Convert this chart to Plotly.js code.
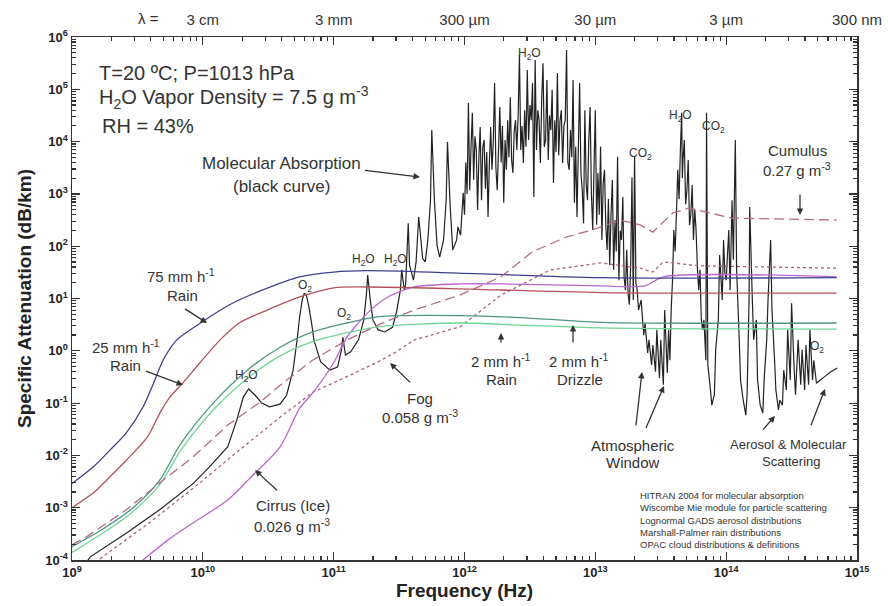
<!DOCTYPE html>
<html><head><meta charset="utf-8">
<script src="https://cdn.plot.ly/plotly-3.0.1.min.js"></script>
<style>html,body{margin:0;padding:0;background:#fff}#chart{width:888px;height:606px}</style>
</head><body><div id="chart"></div>
<script>
// ---- tick labels ----
const freqTicks = [1e9, 1e10, 1e11, 1e12, 1e13, 1e14, 1e15];
const freqTickText = ['10<sup>9</sup>','10<sup>10</sup>','10<sup>11</sup>','10<sup>12</sup>','10<sup>13</sup>','10<sup>14</sup>','10<sup>15</sup>'];
const attTicks = [1e-4, 1e-3, 1e-2, 1e-1, 1e0, 1e1, 1e2, 1e3, 1e4, 1e5, 1e6];
const attTickText = ['10<sup>-4</sup>','10<sup>-3</sup>','10<sup>-2</sup>','10<sup>-1</sup>','10<sup>0</sup>','10<sup>1</sup>','10<sup>2</sup>','10<sup>3</sup>','10<sup>4</sup>','10<sup>5</sup>','10<sup>6</sup>'];
const waveTicks = [1e10, 1e11, 1e12, 1e13, 1e14, 1e15];
const waveTickText = ['3 cm', '3 mm', '300 \u00b5m', '30 \u00b5m', '3 \u00b5m', '300 nm'];

// ---- series (Hz, dB/km) ----
const rain75F = [1e9, 1.45e9, 1.95e9, 2.6e9, 3.5e9, 4.2e9, 5e9, 6.3e9, 9.6e9, 1.6e10, 2.75e10, 5.5e10, 1e11, 1.8e11, 7.8e11, 1.1e13, 7e14];
const rain75A = [2.9e-3, 6e-3, 0.0126, 0.027, 0.085, 0.24, 0.68, 1.6, 3.4, 7.6, 14, 26, 32, 34, 31, 25, 25];

const rain25F = [1e9, 1.45e9, 1.95e9, 2.6e9, 3.75e9, 4.7e9, 5.6e9, 7e9, 9.5e9, 1.35e10, 1.9e10, 3.1e10, 5.5e10, 1e11, 1.8e11, 7.8e11, 1.1e13, 7e14];
const rain25A = [1.0e-3, 1.9e-3, 3.9e-3, 8.1e-3, 0.022, 0.065, 0.13, 0.24, 0.59, 1.6, 3.4, 6, 10.7, 16, 16.6, 15.5, 13, 12.7];

const rain2F = [1e9, 1.6e9, 2.9e9, 4.7e9, 6.7e9, 1.2e10, 2.2e10, 3.9e10, 6.9e10, 1.26e11, 2.24e11, 9.3e11, 2.7e12, 1.1e13, 7e14];
const rain2A = [1.8e-4, 3.5e-4, 9.8e-4, 3.4e-3, 0.016, 0.1, 0.43, 1.17, 2.3, 3.4, 4.5, 4.7, 4.3, 3.5, 3.4];

const drizzleF = [1e9, 1.6e9, 2.9e9, 4.7e9, 6.7e9, 1.2e10, 2.2e10, 3.9e10, 6.9e10, 1.26e11, 2.24e11, 9.3e11, 2.7e12, 1.1e13, 7e14];
const drizzleA = [1.4e-4, 2.9e-4, 8.3e-4, 2.8e-3, 0.012, 0.074, 0.3, 0.8, 1.5, 2.2, 2.9, 3.4, 3.1, 2.75, 2.6];

const fogF = [1.5e9, 4e9, 9.5e9, 1.9e10, 3.9e10, 6.9e10, 1.26e11, 2.2e11, 3e11, 4.1e11, 9.3e11, 1.9e12, 4.5e12, 1.1e13, 2.2e13, 2.75e13, 3.3e13, 6.3e13, 7e14];
const fogA = [0.9e-4, 5.4e-4, 3e-3, 0.0126, 0.054, 0.16, 0.32, 0.62, 0.95, 1.6, 2.9, 11.6, 35, 48, 38, 32, 50, 42, 38];

const cirrusF = [3.4e9, 5.4e9, 8.4e9, 1.55e10, 2.3e10, 3.9e10, 5.5e10, 6.9e10, 1e11, 1.26e11, 1.8e11, 2.6e11, 4.1e11, 9.3e11, 1.9e12, 1.1e13, 2.4e13, 3.3e13, 7e14];
const cirrusA = [0.95e-4, 2.4e-4, 5.1e-4, 1.4e-3, 3.7e-3, 0.0145, 0.08, 0.155, 0.59, 1.8, 5.2, 10.7, 16.6, 19, 19, 17.4, 17.4, 26, 26];

const cumulusF = [1e9, 1.3e9, 2.6e9, 4.7e9, 8.4e9, 1.55e10, 2.75e10, 3.9e10, 6.9e10, 1.26e11, 2.24e11, 4.1e11, 9.3e11, 1.9e12, 3.3e12, 6e12, 9.5e12, 1.55e13, 2.2e13, 2.75e13, 3.9e13, 5.2e13, 1.1e14, 7e14];
const cumulusA = [1.95e-4, 2.8e-4, 9.1e-4, 3e-3, 9.3e-3, 0.038, 0.105, 0.22, 0.66, 1.6, 3.2, 6, 11.7, 26, 78, 150, 205, 316, 255, 186, 430, 540, 345, 316];

// molecular absorption: base-10 exponents of frequency (Hz) and of attenuation (dB/km)
const molLogHz = [
9.10,9.14,9.42,9.67,9.93,10.05,10.19,10.26,10.31,10.35,
10.40,10.45,10.51,10.59,10.64,10.69,10.72,10.74,10.76,10.775,
10.79,10.81,10.83,10.85,10.90,10.97,11.03,11.06,11.07,11.09,
11.13,11.19,11.23,11.25,11.26,11.28,11.30,11.34,11.39,11.45,
11.48,11.51,11.52,11.54,11.55,11.57,11.58,11.61,11.63,11.65,
11.68,11.70,11.72,11.74,11.75,11.77,11.79,11.81,11.84,11.86,
11.87,11.89,11.91,11.94,11.95,11.97,11.99,12.00,12.01,12.02,
12.03,12.04,12.05,12.06,12.07,12.08,12.09,12.10,12.11,12.12,
12.13,12.14,12.15,12.16,12.17,12.18,12.19,12.20,12.21,12.22,
12.23,12.24,12.25,12.26,12.27,12.28,12.29,12.30,12.31,12.32,
12.33,12.34,12.35,12.36,12.37,12.38,12.39,12.40,12.41,12.42,
12.43,12.44,12.45,12.46,12.47,12.48,12.49,12.50,12.51,12.52,
12.53,12.54,12.55,12.56,12.57,12.58,12.59,12.60,12.61,12.62,
12.63,12.64,12.65,12.66,12.67,12.68,12.69,12.70,12.71,12.72,
12.73,12.74,12.75,12.76,12.77,12.78,12.79,12.80,12.81,12.82,
12.83,12.84,12.85,12.86,12.87,12.88,12.89,12.90,12.91,12.92,
12.93,12.94,12.95,12.96,12.97,12.98,12.99,13.00,13.01,13.02,
13.03,13.04,13.05,13.06,13.07,13.08,13.09,13.10,13.11,13.12,
13.13,13.14,13.15,13.16,13.17,13.18,13.19,13.20,13.21,13.22,
13.23,13.24,13.25,13.26,13.27,13.28,13.29,13.30,13.31,13.32,
13.33,13.35,13.37,13.38,13.40,13.41,13.43,13.44,13.46,13.47,
13.49,13.50,13.52,13.53,13.55,13.56,13.57,13.58,13.59,13.60,
13.61,13.62,13.63,13.64,13.65,13.66,13.665,13.67,13.68,13.69,
13.70,13.71,13.72,13.73,13.74,13.75,13.76,13.77,13.78,13.79,
13.80,13.81,13.82,13.83,13.845,13.85,13.86,13.88,13.89,13.91,
13.92,13.94,13.95,13.97,13.98,13.99,14.00,14.02,14.03,14.045,
14.055,14.07,14.08,14.10,14.11,14.13,14.15,14.16,14.175,14.18,
14.20,14.21,14.23,14.24,14.26,14.28,14.29,14.31,14.32,14.34,
14.35,14.37,14.38,14.40,14.41,14.43,14.44,14.46,14.47,14.49,
14.50,14.52,14.53,14.55,14.57,14.58,14.60,14.61,14.63,14.64,
14.66,14.67,14.69,14.72,14.76,14.80,14.85];
const molLogDb = [
-4.08,-3.94,-3.48,-3.04,-2.53,-2.22,-1.84,-1.32,-0.88,-0.73,
-0.85,-1.00,-1.07,-1.02,-0.85,-0.37,0.20,0.65,0.98,1.10,
1.08,0.85,0.55,0.20,-0.21,-0.37,-0.31,0.02,0.26,-0.08,
-0.02,0.21,0.59,1.07,1.45,0.97,0.59,0.40,0.36,0.45,
0.74,1.16,1.55,1.16,1.26,2.44,1.64,1.35,1.70,2.56,
1.77,1.70,2.12,2.88,4.22,2.88,2.02,1.79,2.12,2.88,
3.99,2.79,1.93,2.12,2.37,2.21,3.02,2.60,3.60,3.00,
4.74,3.07,3.90,4.55,3.27,4.10,3.84,2.69,3.70,4.28,
2.88,3.90,4.03,3.10,3.80,2.56,3.60,4.28,3.46,4.00,
5.12,3.50,3.07,3.84,4.66,3.60,4.30,2.83,4.03,3.46,
4.41,3.70,4.85,3.65,3.40,4.20,4.41,3.84,4.50,5.66,
3.84,4.30,3.59,4.60,3.90,5.37,4.03,4.70,4.41,5.12,
2.94,5.56,3.84,4.60,4.41,3.59,4.80,5.50,3.90,4.03,
5.18,3.65,4.50,4.22,4.99,3.21,4.41,3.80,5.31,3.74,
4.40,4.60,3.59,4.30,4.41,5.75,3.60,3.46,4.22,3.70,
5.18,2.83,3.90,2.56,3.84,5.12,3.40,3.07,2.44,4.60,
3.20,2.88,4.03,4.66,3.00,2.31,3.50,4.60,2.41,3.40,
2.60,3.90,2.12,3.20,3.46,2.40,1.93,2.90,1.64,2.60,
3.27,1.55,2.50,1.90,3.71,1.35,2.30,2.12,2.94,1.40,
1.16,1.93,1.10,0.88,1.60,3.32,0.97,3.71,1.30,1.16,
0.78,0.97,0.30,0.53,-0.04,0.21,-0.27,0.11,-0.40,0.40,
-0.52,0.21,-0.65,0.78,-0.42,0.40,-0.18,0.80,1.35,2.31,
1.90,2.63,3.46,2.90,3.84,4.55,3.30,3.65,4.03,2.80,
3.07,3.65,2.40,2.60,3.17,2.12,2.70,2.31,1.60,1.16,
1.55,0.60,0.40,0.59,-0.18,4.55,-0.27,-0.75,-1.04,-0.84,
0.02,0.59,1.83,0.97,2.12,1.50,1.35,2.31,1.16,2.88,
1.74,4.03,1.55,0.21,-0.56,-0.94,-1.23,-0.84,0.97,2.75,
0.97,0.21,0.59,-0.56,-1.04,-1.19,-0.56,0.21,0.97,2.12,
0.78,-0.18,-0.75,-1.13,-0.94,-1.04,-0.37,-0.75,0.40,-0.56,
0.91,-0.37,-0.84,0.21,-0.65,0.02,-0.75,0.11,-0.65,0.40,
-0.56,-0.18,-0.62,-0.56,-0.48,-0.40,-0.33];

const FONT = '"Liberation Sans", Arial, Helvetica, sans-serif';

// minor tick positions 2..9 per decade
const minorX = [], minorY = [];
for (let d = 9; d < 15; d++) for (let m = 2; m <= 9; m++) minorX.push(m * Math.pow(10, d));
for (let d = -4; d < 6; d++) for (let m = 2; m <= 9; m++) minorY.push(m * Math.pow(10, d));

function line(x, y, color, dash, width, opts) {
  opts = opts || {};
  return {type:'scatter', mode:'lines', x:x, y:y, hoverinfo:'skip', xaxis:opts.xaxis||'x', yaxis:'y',
          line:{color:color, width:width||1.2, dash:dash||'solid', simplify:false,
                shape:opts.smooth ? 'spline' : 'linear', smoothing:opts.smooth||0}};
}

const traces = [
  line(molLogHz.map(e => Math.pow(10, e)), molLogDb.map(e => Math.pow(10, e)), '#222222', 'solid', 1.2),
  line(cumulusF, cumulusA, '#b4698a', '10px,5px', 1.3, {xaxis:'x2'}),
  line(fogF, fogA, '#a8607e', '3px,3px', 1.3),
  line(cirrusF, cirrusA, '#bb66cc', 'solid', 1.3, {smooth:0.7}),
  line(rain25F, rain25A, '#b5505a', 'solid', 1.3, {smooth:0.8}),
  line(rain75F, rain75A, '#3f3f8f', 'solid', 1.3, {smooth:0.8}),
  line(drizzleF, drizzleA, '#6fd596', 'solid', 1.3, {smooth:0.8}),
  line(rain2F, rain2A, '#4f9585', 'solid', 1.3, {smooth:0.8})
];

// helpers for annotation placement (pixel position inside the 888x606 figure -> paper)
const PL = 72, PB = 560, PW = 785, PH = 523;
function txt(t, px, py, size, extra) {
  return Object.assign({text:t, xref:'paper', yref:'paper', x:(px-PL)/PW, y:(PB-py)/PH,
    xanchor:'center', yanchor:'middle', showarrow:false,
    font:{family:FONT, size:size, color:'#333'}}, extra||{});
}
function arrow(tipx, tipy, tailx, taily) {
  return {text:' ', xref:'paper', yref:'paper', x:(tipx-PL)/PW, y:(PB-tipy)/PH,
    ax:tailx-tipx, ay:taily-tipy, showarrow:true, arrowhead:2, arrowsize:1,
    arrowwidth:1.3, arrowcolor:'#333', standoff:0, startstandoff:0};
}

const annotations = [
  txt('T=20 \u00baC; P=1013 hPa', 97, 73, 20, {xanchor:'left'}),
  txt('H<sub>2</sub>O Vapor Density = 7.5 g m<sup>-3</sup>', 97, 98, 20, {xanchor:'left'}),
  txt('RH = 43%', 100, 126, 20, {xanchor:'left'}),
  txt('Molecular Absorption', 281, 163, 17),
  txt('(black curve)', 281, 186, 17),
  arrow(420, 177, 362, 170),
  txt('H<sub>2</sub>O', 529, 54, 12),
  txt('CO<sub>2</sub>', 640, 154, 12),
  txt('H<sub>2</sub>O', 680, 116, 12),
  txt('CO<sub>2</sub>', 713, 127, 12),
  txt('Cumulus', 797, 151, 15),
  txt('0.27 g m<sup>-3</sup>', 797, 170, 15),
  arrow(800, 215, 800, 186),
  txt('H<sub>2</sub>O', 363, 260, 12),
  txt('H<sub>2</sub>O', 395, 260, 12),
  txt('O<sub>2</sub>', 305, 286, 12),
  txt('O<sub>2</sub>', 344, 314, 12),
  txt('H<sub>2</sub>O', 246, 376, 12),
  txt('75 mm h<sup>-1</sup>', 181, 275, 15),
  txt('Rain', 182, 295, 15),
  arrow(207, 323, 182, 307),
  txt('25 mm h<sup>-1</sup>', 126, 346, 15),
  txt('Rain', 125, 365, 15),
  arrow(183, 385, 143, 370),
  txt('Fog', 420, 398, 15),
  txt('0.058 g m<sup>-3</sup>', 420, 416, 15),
  arrow(390, 363, 413, 385),
  txt('Cirrus (Ice)', 293, 505, 15),
  txt('0.026 g m<sup>-3</sup>', 292, 525, 15),
  arrow(255, 470, 280, 493),
  txt('2 mm h<sup>-1</sup>', 501, 360, 15),
  txt('Rain', 501, 379, 15),
  arrow(501, 333, 501, 351),
  txt('2 mm h<sup>-1</sup>', 579, 360, 15),
  txt('Drizzle', 580, 379, 15),
  arrow(573, 325, 573, 351),
  txt('Atmospheric', 633, 445, 15),
  txt('Window', 633, 462, 15),
  arrow(642, 372, 635, 434),
  arrow(664, 386, 643, 435),
  txt('Aerosol &amp; Molecular', 788, 444, 13),
  txt('Scattering', 791, 461, 13),
  arrow(775, 416, 760, 433),
  arrow(825, 389, 808, 433),
  txt('O<sub>2</sub>', 817, 347, 12),
  txt('HITRAN 2004 for molecular absorption<br>Wiscombe Mie module for particle scattering<br>Lognormal GADS aerosol distributions<br>Marshall-Palmer rain distributions<br>OPAC cloud distributions &amp; definitions',
      638, 520, 9.5, {xanchor:'left', align:'left'}),
  txt('\u03bb =', 148, 18, 15)
];

const axisCommon = {
  type:'log', showgrid:false, zeroline:false, showline:true, linecolor:'#333', linewidth:1.5,
  mirror:'ticks', ticks:'inside', ticklen:8, tickwidth:1.2, tickcolor:'#333',
  tickmode:'array', automargin:false,
  tickfont:{family:FONT, size:13, color:'#222', weight:'bold'}
};

const layout = {
  width:888, height:606,
  margin:{l:PL, r:888-PL-PW, t:37, b:606-PB, pad:0},
  paper_bgcolor:'#ffffff', plot_bgcolor:'#ffffff',
  showlegend:false,
  font:{family:FONT, color:'#333'},
  xaxis: Object.assign({}, axisCommon, {
    range:[9, 15], tickvals:freqTicks, ticktext:freqTickText,
    minor:{tickmode:'array', tickvals:minorX, ticks:'inside', ticklen:4, tickcolor:'#333', showgrid:false},
    title:{text:'Frequency (Hz)', font:{family:FONT, size:19, color:'#222', weight:'bold'}, standoff:4}
  }),
  xaxis2: {
    type:'log', range:[9, 15], overlaying:'x', side:'top', anchor:'y',
    tickmode:'array', tickvals:waveTicks, ticktext:waveTickText,
    ticks:'', showline:false, showgrid:false, zeroline:false, automargin:false,
    ticklabelstandoff:8,
    tickfont:{family:FONT, size:15, color:'#333'}
  },
  yaxis: Object.assign({}, axisCommon, {
    range:[-4, 6], tickvals:attTicks, ticktext:attTickText,
    minor:{tickmode:'array', tickvals:minorY, ticks:'inside', ticklen:4, tickcolor:'#333', showgrid:false},
    title:{text:'Specific Attenuation (dB/km)', font:{family:FONT, size:19, color:'#222', weight:'bold'}, standoff:8}
  }),
  annotations: annotations
};

Plotly.newPlot('chart', traces, layout, {staticPlot:true, displayModeBar:false});
</script></body></html>
